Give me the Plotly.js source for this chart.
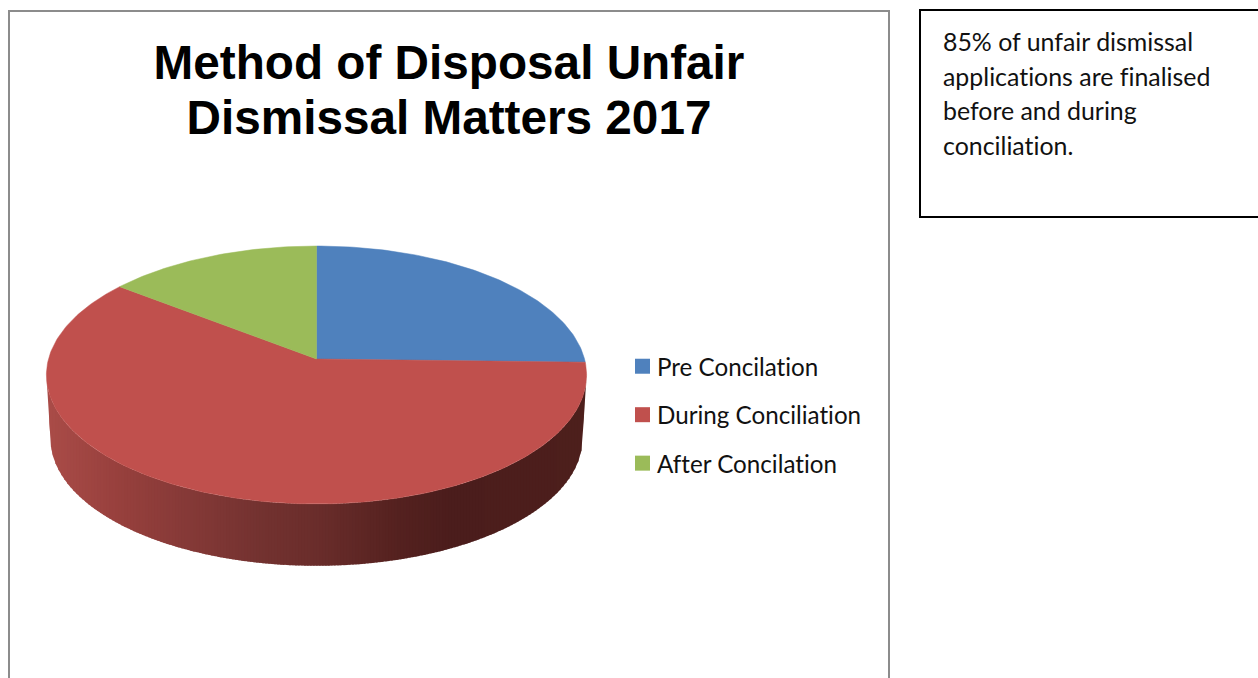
<!DOCTYPE html>
<html>
<head>
<meta charset="utf-8">
<script src="https://cdn.plot.ly/plotly-3.0.1.min.js"></script>
<style>
html,body{margin:0;padding:0;background:#fff;overflow:hidden}
#chart{width:1258px;height:678px}
text{font-variant-ligatures:none;font-feature-settings:"liga" 0,"clig" 0}
</style>
</head>
<body>
<div id="chart"></div>
<script>
// Method of disposal, share of unfair dismissal matters (percent)
const categories = ['Pre Concilation', 'During Conciliation', 'After Concilation'];
const shares = [25.4, 60.1, 14.5];
const sliceColors = ['#4F81BD', '#C0504D', '#9BBB59'];
const titleLines = ['Method of Disposal Unfair', 'Dismissal Matters 2017'];
const noteLines = ['85% of unfair dismissal', 'applications are finalised', 'before and during', 'conciliation.'];

// Tilted disc geometry, in pixels of the hidden axes
const disc = {cx: 316.5, cy: 359, rx: 268, ry: 127, tilt: 0.124};
const rim = {cy: 423, scale: 0.985};
const bodyFont = 'Lato, Carlito, sans-serif';

// Project an angle (degrees clockwise from the back of the disc) onto the screen
function project(deg, cy, scale) {
  const a = deg * Math.PI / 180;
  const w = 1 + disc.tilt * Math.cos(a);
  return [disc.cx + scale * disc.rx * Math.sin(a) / w,
          cy - scale * disc.ry * Math.cos(a) / w];
}

// Front edge of a disc outline as points sorted by screen x
function frontEdge(cy, scale) {
  const extreme = Math.acos(-disc.tilt) * 180 / Math.PI;
  const pts = [];
  for (let d = extreme; d <= 360 - extreme; d += 0.5) pts.push(project(d, cy, scale));
  return pts.sort((a, b) => a[0] - b[0]);
}
function edgeY(pts, x) {
  if (x <= pts[0][0]) return pts[0][1];
  for (let i = 1; i < pts.length; i++) {
    if (x <= pts[i][0]) {
      const f = (x - pts[i - 1][0]) / (pts[i][0] - pts[i - 1][0]);
      return pts[i - 1][1] + (pts[i][1] - pts[i - 1][1]) * f;
    }
  }
  return pts[pts.length - 1][1];
}

// Shading of the rim from its lit left side to the dark right side
const rimStops = [[46,[170,76,72]],[120,[151,64,61]],[200,[130,56,54]],[260,[115,50,48]],
                  [317,[106,45,43]],[400,[84,33,31]],[450,[75,29,28]],[590,[77,31,28]]];
function rimColor(x) {
  for (let i = 1; i < rimStops.length; i++) {
    if (x <= rimStops[i][0]) {
      const [x0, c0] = rimStops[i - 1], [x1, c1] = rimStops[i];
      const f = Math.max(0, (x - x0) / (x1 - x0));
      return 'rgb(' + c0.map((v, k) => Math.round(v + (c1[k] - v) * f)).join(',') + ')';
    }
  }
  return 'rgb(77,31,28)';
}

const traces = [];

// Rim of the During Conciliation slice, built from upright shaded columns
const total = shares.reduce((a, b) => a + b, 0);
const topEdge = frontEdge(disc.cy, 1);
const lowEdge = frontEdge(rim.cy, rim.scale);
const leftX = topEdge[0][0], rightX = topEdge[topEdge.length - 1][0];
// Close the silhouette with a straight run from the top tips to the lower tips
const lowOutline = [topEdge[0], ...lowEdge, topEdge[topEdge.length - 1]];
const columnStep = 3;
for (let x = leftX; x < rightX; x += columnStep) {
  const xs = [], top = [], low = [];
  const x1 = Math.min(x + columnStep + 1, rightX);
  for (let u = x; u < x1; u += 0.5) xs.push(u);
  xs.push(x1);
  xs.forEach(u => { top.push(edgeY(topEdge, u)); low.push(edgeY(lowOutline, u)); });
  const color = rimColor(x + columnStep / 2);
  traces.push({
    type: 'scatter', mode: 'lines', fill: 'toself', fillcolor: color,
    x: xs.concat(xs.slice().reverse()), y: top.concat(low.slice().reverse()),
    line: {width: 0}, showlegend: false, hoverinfo: 'skip'
  });
}

// Top face of each slice
let start = 0;
shares.forEach((share, i) => {
  const sweep = share / total * 360;
  const xs = [disc.cx], ys = [disc.cy];
  const n = Math.ceil(sweep);
  for (let k = 0; k <= n; k++) {
    const q = project(start + sweep * k / n, disc.cy, 1);
    xs.push(q[0]); ys.push(q[1]);
  }
  xs.push(disc.cx); ys.push(disc.cy);
  traces.push({
    type: 'scatter', mode: 'lines', fill: 'toself', fillcolor: sliceColors[i],
    x: xs, y: ys, line: {color: sliceColors[i], width: 0.5},
    name: categories[i], showlegend: false, hoverinfo: 'name'
  });
  start += sweep;
});

// Legend entries
categories.forEach((name, i) => {
  traces.push({
    type: 'scatter', mode: 'markers', x: [null], y: [null], name: name,
    legendgroup: name,
    marker: {symbol: 'square', size: 15, color: sliceColors[i]}
  });
});

const noteAnnotations = noteLines.map((text, i) => ({
  text: text, xref: 'x', yref: 'y', x: 941, y: 41 + i * 34.7,
  xanchor: 'left', yanchor: 'middle', showarrow: false,
  font: {family: bodyFont, size: 24.9, color: '#111'}
}));

const layout = {
  width: 1258, height: 678,
  margin: {l: 0, r: 0, t: 0, b: 0},
  paper_bgcolor: '#fff', plot_bgcolor: '#fff',
  title: {
    text: titleLines.join('<br>'),
    x: 449 / 1258, xanchor: 'center', xref: 'paper',
    y: 1 - 78.5 / 678, yanchor: 'top', yref: 'container',
    font: {family: 'Liberation Sans, Arial, sans-serif', size: 47.7, weight: 700, color: '#000'}
  },
  xaxis: {range: [0, 1258], visible: false, fixedrange: true},
  yaxis: {range: [678, 0], visible: false, fixedrange: true},
  showlegend: true,
  legend: {
    x: 617 / 1258, xanchor: 'left', y: 1 - 344 / 678, yanchor: 'top',
    bgcolor: 'rgba(0,0,0,0)', borderwidth: 0, tracegroupgap: 14,
    itemclick: false, itemdoubleclick: false,
    font: {family: bodyFont, size: 24.2, color: '#111'}
  },
  annotations: noteAnnotations,
  shapes: [
    // Chart frame, running off the lower edge of the page
    {type: 'rect', xref: 'x', yref: 'y', x0: 9, x1: 889, y0: 11, y1: 720,
     line: {color: '#8c8c8c', width: 2}, layer: 'below'},
    // Note box, running off the right edge of the page
    {type: 'rect', xref: 'x', yref: 'y', x0: 920, x1: 1300, y0: 10, y1: 217,
     line: {color: '#000', width: 2}, layer: 'below'}
  ]
};

Plotly.newPlot('chart', traces, layout, {displayModeBar: false}).then(() => {
  // Tighten the title's leading and bring the legend swatches closer to their labels
  const second = document.querySelectorAll('.gtitle tspan.line')[1];
  if (second) second.setAttribute('dy', '55px');
  document.querySelectorAll('.legend .legendsymbols').forEach(g => g.setAttribute('transform', 'translate(5.5,0)'));
});
</script>
</body>
</html>
